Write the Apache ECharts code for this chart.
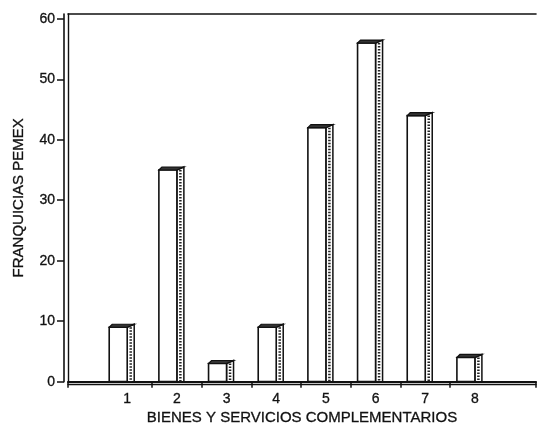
<!DOCTYPE html>
<html>
<head>
<meta charset="utf-8">
<script src="https://cdn.jsdelivr.net/npm/echarts@6/dist/echarts.min.js"></script>
<style>
  html, body { margin: 0; padding: 0; background: #fff; }
  #chart { width: 538px; height: 431px; }
</style>
</head>
<body>
<div id="chart"></div>
<script>
const categories = ["1", "2", "3", "4", "5", "6", "7", "8"];
const franquicias = [9, 35, 3, 9, 42, 56, 44, 4];
const yTicks = [0, 10, 20, 30, 40, 50, 60];

// the x axis is a plain value scale: slot i is centred at i
const xMin = -1.192;
const xMax = 8.23;
const yMax = 60.8;
const slotTicks = [xMin, ...categories.slice(1).map((_, i) => i + 0.5), xMax];

const font = "'Liberation Sans', Arial, sans-serif";
const ink = "#111";

const chart = echarts.init(document.getElementById("chart"), null, { renderer: "canvas" });

function renderBar(params, api) {
  const i = api.value(0);
  const top = api.coord([i, api.value(1)]);
  const base = api.coord([i, 0]);
  const c = top[0];
  const front = 18, side = 7, rise = 3;
  return {
    type: "group",
    children: [
      {
        type: "polygon",
        shape: { points: [[c, top[1]], [c + side, top[1] - rise], [c + side, base[1]], [c, base[1]]] },
        style: { fill: "#fff", stroke: ink, lineWidth: 1.5 }
      },
      {
        type: "line",
        shape: { x1: c + side / 2, y1: top[1], x2: c + side / 2, y2: base[1] },
        style: { stroke: "#222", lineWidth: 2.5, lineDash: [1.5, 1.5] }
      },
      {
        type: "rect",
        shape: { x: c - front, y: top[1], width: front, height: base[1] - top[1] },
        style: { fill: "#fff", stroke: ink, lineWidth: 1.6 }
      },
      {
        type: "polygon",
        shape: { points: [[c - front, top[1]], [c - front + rise, top[1] - rise], [c + side, top[1] - rise], [c, top[1]]] },
        style: { fill: "#333", stroke: ink, lineWidth: 1.2 }
      }
    ]
  };
}

const hidden = { axisTick: { show: false }, axisLabel: { show: false }, splitLine: { show: false } };
const plainLine = (w) => ({ onZero: false, lineStyle: { color: ink, width: w } });

chart.setOption({
  backgroundColor: "#fff",
  animation: false,
  grid: [
    { left: 68, right: 2, top: 14, bottom: 43 },
    // inner edge of the floor, 4px above the base line
    { left: 68, right: 2, top: 14, bottom: 47 }
  ],
  xAxis: [
    {
      gridIndex: 0, type: "value", min: xMin, max: xMax, position: "bottom",
      name: "BIENES Y SERVICIOS COMPLEMENTARIOS",
      nameLocation: "middle", nameGap: 27,
      nameTextStyle: { color: ink, fontFamily: font, fontSize: 15, textBorderColor: ink, textBorderWidth: 0.3 },
      axisLine: plainLine(2),
      axisTick: { show: true, length: 6, customValues: slotTicks, lineStyle: { color: ink, width: 1.5 } },
      axisLabel: {
        customValues: categories.map((_, i) => i),
        formatter: (v) => categories[Math.round(v)],
        color: ink, fontFamily: font, fontSize: 14, margin: 10,
        textBorderColor: ink, textBorderWidth: 0.3
      },
      splitLine: { show: false }
    },
    Object.assign({ gridIndex: 0, type: "value", min: xMin, max: xMax, position: "top", axisLine: plainLine(1.6) }, hidden),
    Object.assign({ gridIndex: 1, type: "value", min: xMin, max: xMax, position: "bottom", axisLine: plainLine(1.3) }, hidden)
  ],
  yAxis: [
    {
      gridIndex: 0, type: "value", min: 0, max: yMax, position: "left", offset: 4,
      name: "FRANQUICIAS PEMEX",
      nameLocation: "middle", nameGap: 38,
      nameTextStyle: { color: ink, fontFamily: font, fontSize: 15, textBorderColor: ink, textBorderWidth: 0.3 },
      axisLine: plainLine(1.6),
      axisTick: { show: true, length: 7, customValues: yTicks, lineStyle: { color: ink, width: 1.5 } },
      axisLabel: {
        customValues: yTicks,
        color: ink, fontFamily: font, fontSize: 14, margin: 9,
        textBorderColor: ink, textBorderWidth: 0.3
      },
      splitLine: { show: false }
    },
    Object.assign({ gridIndex: 0, type: "value", min: 0, max: yMax, position: "left", axisLine: plainLine(1.4) }, hidden),
    Object.assign({ gridIndex: 1, type: "value", min: 0, max: yMax, show: false })
  ],
  series: [
    {
      type: "custom",
      xAxisIndex: 0,
      yAxisIndex: 0,
      renderItem: renderBar,
      encode: { x: 0, y: 1 },
      data: franquicias.map((v, i) => [i, v]),
      z: 5
    }
  ]
});
</script>
</body>
</html>
